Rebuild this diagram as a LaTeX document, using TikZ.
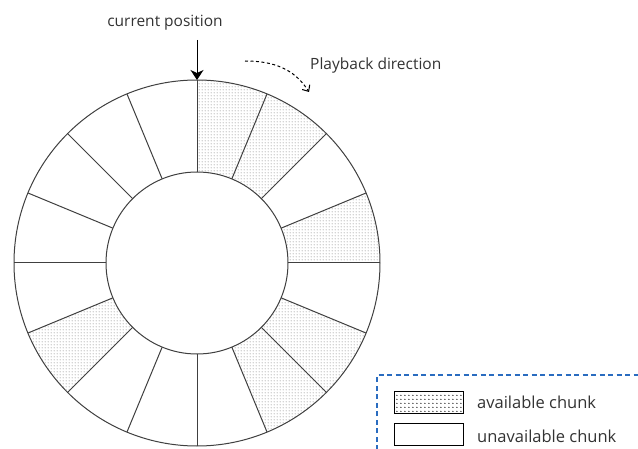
\documentclass[tikz,border=0pt]{standalone}
\usepackage{fontspec}
\setmainfont{Open Sans}
\usetikzlibrary{arrows.meta,patterns.meta}
\tikzdeclarepattern{name=ringdots, type=uncolored,
  bottom left={(0pt,0pt)}, top right={(2.6pt,2.6pt)}, tile size={(2.6pt,2.6pt)},
  code={\pgfpathcircle{\pgfpoint{1.3pt}{1.3pt}}{0.5pt}\pgfusepath{fill}}}
\tikzdeclarepattern{name=legdots, type=uncolored,
  bottom left={(0pt,0pt)}, top right={(4.4pt,4pt)}, tile size={(4.4pt,4pt)},
  code={\pgfpathcircle{\pgfpoint{2.2pt}{2pt}}{0.75pt}\pgfusepath{fill}}}
\definecolor{txt}{HTML}{333333}
\definecolor{ringline}{HTML}{404040}
\definecolor{legblue}{HTML}{2A6CC0}
\tikzset{
  ringdraw/.style={draw=ringline, line width=1pt},
  avail/.style={pattern=ringdots, pattern color=black!70},
  label/.style={text=txt, font=\fontsize{15.5}{18}\selectfont, inner sep=0pt},
  leglabel/.style={text=txt, font=\fontsize{16.5}{19}\selectfont, inner sep=0pt, anchor=west},
  swatch/.style={draw=black, line width=1pt, minimum width=69pt, minimum height=22pt, inner sep=0pt},
}
\begin{document}
\begin{tikzpicture}[x=1pt,y=1pt]
\fill[white] (0,0) rectangle (638,448);
\useasboundingbox (0,0) rectangle (638,448);
\coordinate (C) at (197,185);
% ring
\begin{scope}[shift={(C)}]
  \foreach \a in {67.5,45,0,-45,-67.5,202.5}{
    \fill[avail] (\a:91pt) -- (\a:183pt) arc[start angle=\a, delta angle=22.5, radius=183pt]
      -- ({\a+22.5}:91pt) arc[start angle={\a+22.5}, delta angle=-22.5, radius=91pt] -- cycle;
  }
  \draw[ringdraw] (0,0) circle (183pt);
  \draw[ringdraw] (0,0) circle (91pt);
  \foreach \i in {0,...,15}{
    \draw[ringdraw] ({\i*22.5}:91pt) -- ({\i*22.5}:183pt);
  }
\end{scope}
% current position
\node[label] (cur) at (165,425) {current position};
\coordinate (curstart) at (197,408);
\coordinate (ringtop) at (197,368);
\draw[black, line width=1pt, -{Stealth[length=10pt, width=13pt, inset=3pt]}] (curstart) -- (ringtop);
% playback direction
\node[label, anchor=west] (play) at (310,383) {Playback direction};
\coordinate (pbs) at (245,387);
\coordinate (pbe) at (309,356);
\draw[black, line width=1pt, dash pattern=on 3pt off 2.5pt, -{Straight Barb[length=5pt, width=9pt]}]
  (pbs) to[out=0, in=122] (pbe);
% legend
\draw[draw=legblue, line width=1.2pt, dash pattern=on 5pt off 3.5pt] (377,-2) -- (377,73) -- (640,73);
\node[swatch, pattern=legdots, pattern color=black] (sw1) at (428.5,46) {};
\node[swatch, fill=white] (sw2) at (428.5,14) {};
\node[leglabel] (l1) at (477,46) {available chunk};
\node[leglabel] (l2) at (477,12) {unavailable chunk};
\end{tikzpicture}
\end{document}
